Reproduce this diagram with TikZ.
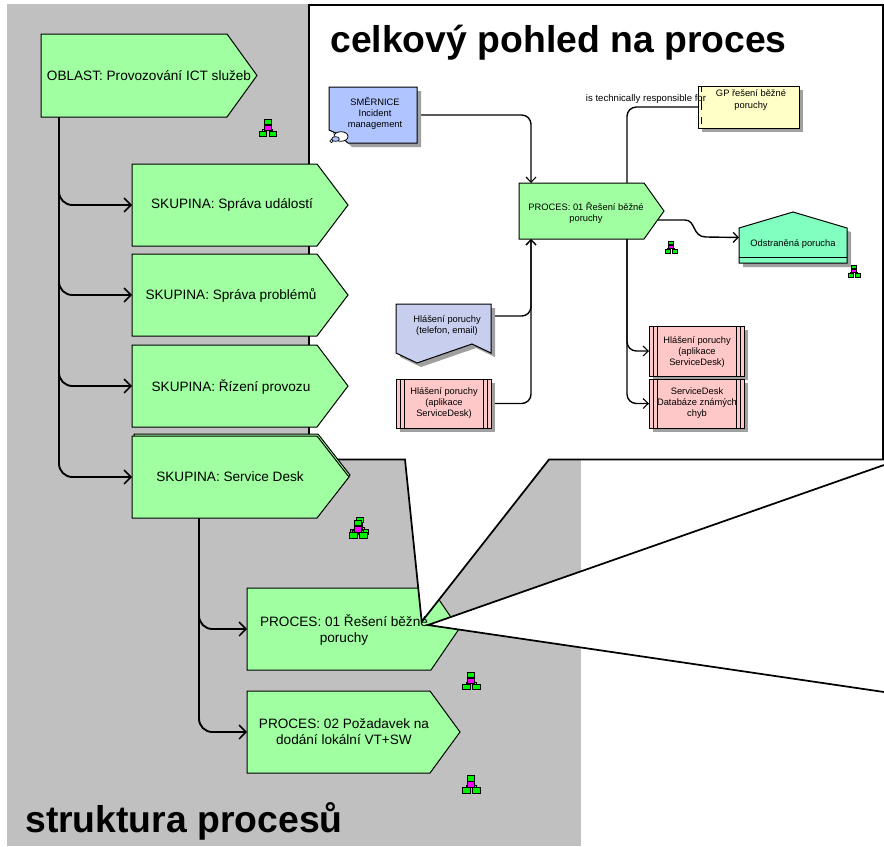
\documentclass[tikz,border=0pt]{standalone}
\usepackage{fontspec}
\setmainfont{Liberation Sans}
\usetikzlibrary{arrows.meta}
\definecolor{bggray}{HTML}{C0C0C0}
\definecolor{procgreen}{HTML}{A0FFA0}
\definecolor{shadowgray}{HTML}{A0A0A0}
\definecolor{docblue}{HTML}{B0C4FF}
\definecolor{infoblue}{HTML}{C8CEEE}
\definecolor{syspink}{HTML}{FFC8C8}
\definecolor{orgyellow}{HTML}{FFFFC8}
\definecolor{eventgreen}{HTML}{80FFC0}
\definecolor{iconmag}{HTML}{FF00FF}
\definecolor{icongreen}{HTML}{00F000}
\tikzset{
  hit/.style={inner sep=0pt,outer sep=0pt,draw=none,fill=none},
  outline/.style={draw=black,line width=0.75pt,line join=miter},
  outertext/.style={inner sep=0pt,align=center,font=\fontsize{10.2}{12}\selectfont},
  innertext/.style={inner sep=0pt,align=center,font=\fontsize{7}{8.3}\selectfont},
  bigtitle/.style={inner sep=0pt,anchor=base west,font=\fontsize{28}{30}\selectfont\bfseries},
  outerconn/.style={draw=black,line width=1.4pt,rounded corners=10pt,-{Straight Barb[length=5.2pt,width=10.5pt,line width=1.1pt]}},
  trunkline/.style={draw=black,line width=2pt},
  innerconn/.style={draw=black,line width=1.05pt,rounded corners=7pt,-{Straight Barb[length=3.8pt,width=7.5pt,line width=0.9pt]}},
  innerline/.style={draw=black,line width=1.05pt,rounded corners=7pt},
  calloutline/.style={draw=black,line width=1.3pt,line join=miter},
}
\newcommand{\boxnode}[5]{%
  \pgfmathsetmacro\bw{(#4-#2)*0.75}%
  \pgfmathsetmacro\bh{(#5-#3)*0.75}%
  \pgfmathsetmacro\bx{(#2+#4)/2}%
  \pgfmathsetmacro\by{(#3+#5)/2}%
  \node[hit,minimum width=\bw pt,minimum height=\bh pt] (#1) at (\bx,\by) {};%
}
% l t shoulder tip bottom
\newcommand{\chevron}[5]{%
  \pgfmathsetmacro\my{(#2+#5)/2}%
  \path[outline,fill=procgreen] (#1,#2) -- (#3,#2) -- (#4,\my) -- (#3,#5) -- (#1,#5) -- cycle;%
}
\newcommand{\shadowed}[2]{%
  \fill[shadowgray,shift={(4,4)}] #2;%
  \path[outline,fill=#1] #2;%
}
\newcommand{\hicon}[3]{%
  \begin{scope}[shift={(#1,#2)},scale=#3]
    \draw[line width=0.4pt] (0,5) -- (0,8) (-5,12) -- (-5,10) -- (5,10) -- (5,12);
    \filldraw[draw=black,line width=0.55pt,fill=icongreen] (-3.5,0) rectangle (3.5,5.5);
    \filldraw[draw=black,line width=0.55pt,fill=iconmag] (-3.2,6) rectangle (3.2,11.5);
    \filldraw[draw=black,line width=0.55pt,fill=icongreen] (-8.7,12) rectangle (-1,17.5);
    \filldraw[draw=black,line width=0.55pt,fill=icongreen] (1.5,12) rectangle (9,17.5);
  \end{scope}%
}
\newcommand{\syslines}[4]{%
  \draw[line width=0.6pt] (#1,#3) -- (#1,#4) (#2,#3) -- (#2,#4);%
}
\begin{document}
\begin{tikzpicture}[x=0.75pt,y=-0.75pt]
\useasboundingbox (0,0) rectangle (884,846);
% background
\fill[bggray] (7,4) rectangle (581,846);

% node frames
\boxnode{oblast}{41}{34}{257}{117}
\boxnode{skA}{132}{164}{348}{246}
\boxnode{skB}{132}{254}{348}{336}
\boxnode{skC}{132}{345}{348}{427}
\boxnode{skD}{132}{436}{349}{518}
\boxnode{procA}{247}{588}{459}{670}
\boxnode{procB}{247}{691}{460}{773}
\boxnode{smer}{329}{87}{417}{143}
\boxnode{core}{519}{183}{664}{239}
\boxnode{gp}{698}{86}{799}{128}
\boxnode{odstr}{739}{212}{847}{263}
\boxnode{tel}{396}{304}{491}{363}
\boxnode{pinkL}{396}{379}{491}{428}
\boxnode{pinkA}{649}{326}{744}{376}
\boxnode{pinkB}{649}{379}{744}{428}
\coordinate (trunkA) at (59,300);
\coordinate (trunkB) at (199,600);
\coordinate (trunkAend) at (59,462);
\coordinate (trunkBend) at (199,718);
\coordinate (coreIn) at (531,300);
\coordinate (coreOut) at (627,300);
\coordinate (telOut) at (491,316);
\coordinate (coreTip) at (658,220);
\coordinate (sA) at (685,220);
\coordinate (sB) at (706,237);

% outer connectors
\draw[outerconn] (trunkA |- oblast.south) |- (skA.west);
\draw[outerconn] (trunkA |- oblast.south) |- (skB.west);
\draw[outerconn] (trunkA |- oblast.south) |- (skC.west);
\draw[outerconn] (trunkA |- oblast.south) |- (skD.west);
\draw[outerconn] (trunkB |- skD.south) |- (procA.west);
\draw[outerconn] (trunkB |- skD.south) |- (procB.west);
\draw[trunkline] (trunkA |- oblast.south) -- (trunkAend);
\draw[trunkline] (trunkB |- skD.south) -- (trunkBend);

% shape under the callout
\chevron{247}{588}{431}{459}{670}
\chevron{247}{691}{430}{460}{773}
\chevron{41}{34}{227}{257}{117}

% callout
\path[calloutline,fill=white] (309,5) -- (883,5) -- (883,459.5) -- (549,459.5) -- (421.7,621.7) -- (405,459.5) -- (309,459.5) -- cycle;
\fill[white] (428,625) -- (884,465) -- (884,692) -- cycle;
\draw[calloutline] (884,465) -- (428,625) -- (884,692);

% outer shapes on top of the callout
\chevron{132}{164}{317}{348}{246}
\chevron{132}{254}{317}{348}{336}
\chevron{132}{345}{317}{348}{427}
\chevron{134}{434}{318}{350}{516}
\chevron{132}{436}{317}{349}{518}

% inner connectors
\draw[innerconn] (smer.east) -| (coreIn |- core.north);
\draw[innerconn] (telOut) -| (coreIn |- core.south);
\draw[innerconn] (pinkL.east) -| (coreIn |- core.south);
\draw[innerline] (coreOut |- core.north) |- (gp.west);
\draw[innerconn] (coreOut |- core.south) |- (pinkA.west);
\draw[innerconn] (coreOut |- core.south) |- (pinkB.west);
\draw[draw=black,line width=1.05pt,-{Straight Barb[length=3.8pt,width=7.5pt,line width=0.9pt]}] (coreTip) -- (sA) .. controls (696,220) and (692,237) .. (sB) -- (odstr.west);

% inner shapes
\chevron{519}{183}{644}{664}{239}
\shadowed{docblue}{(329,87) -- (417,87) -- (417,143) -- (348,143) -- (338,134) -- (329,130) -- cycle}
\filldraw[draw=black,line width=0.6pt,fill=white] (341,136.5) ellipse (7 and 4.8);
\filldraw[draw=black,line width=0.5pt,fill=docblue] (335.5,139) ellipse (3.8 and 2.4);
\filldraw[draw=black,line width=0.4pt,fill=docblue] (331.5,141) circle (1.8);
\shadowed{orgyellow}{(698,86) -- (799,86) -- (799,128) -- (698,128) -- cycle}
\draw[line width=0.6pt] (701.5,86) -- (701.5,92) (701.5,97) -- (701.5,110) (701.5,117) -- (701.5,124);
\shadowed{eventgreen}{(739,228) -- (793,212) -- (847,228) -- (847,263) -- (739,263) -- cycle}
\draw[line width=0.7pt] (739,257) -- (847,257);
\shadowed{infoblue}{(396,304) -- (491,304) -- (491,353) -- (472,344) -- (417,363) -- (396,353) -- cycle}
\shadowed{syspink}{(396,379) -- (491,379) -- (491,428) -- (396,428) -- cycle}
\syslines{400}{404.5}{379}{428}
\syslines{483}{487}{379}{428}
\shadowed{syspink}{(649,326) -- (744,326) -- (744,376) -- (649,376) -- cycle}
\syslines{653}{657.5}{326}{376}
\syslines{736}{740}{326}{376}
\shadowed{syspink}{(649,379) -- (744,379) -- (744,428) -- (649,428) -- cycle}
\syslines{653}{657.5}{379}{428}
\syslines{736}{740}{379}{428}

% hierarchy icons
\hicon{267.7}{119.3}{1}
\hicon{359.5}{517}{1}
\hicon{358}{520}{1.05}
\hicon{471}{672}{1}
\hicon{471}{775.5}{1}
\hicon{671}{241}{0.68}
\hicon{854}{265}{0.68}

% texts
\node[outertext] (toblast) at (149,76) {OBLAST: Provozování ICT služeb};
\node[outertext] (tskA) at (232,205) {SKUPINA: Správa událostí};
\node[outertext] (tskB) at (231,295) {SKUPINA: Správa problémů};
\node[outertext] (tskC) at (231,387) {SKUPINA: Řízení provozu};
\node[outertext] (tskD) at (230,477) {SKUPINA: Service Desk};
\node[outertext] (tprocA) at (344,630) {PROCES: 01 Řešení běžné\\poruchy};
\node[outertext] (tprocB) at (344,731.5) {PROCES: 02 Požadavek na\\dodání lokální VT+SW};
\node[innertext] (tsmer) at (375,113) {SMĚRNICE\\Incident\\management};
\node[innertext] (tcore) at (586,212.5) {PROCES: 01 Řešení běžné\\poruchy};
\node[innertext] (tgp) at (751,100) {GP řešení běžné\\poruchy};
\node[innertext] (todstr) at (793,244) {Odstraněná porucha};
\node[innertext] (ttel) at (447,325.5) {Hlášení poruchy\\(telefon, email)};
\node[innertext] (tpinkL) at (444,403) {Hlášení poruchy\\(aplikace\\ServiceDesk)};
\node[innertext] (tpinkA) at (697,352) {Hlášení poruchy\\(aplikace\\ServiceDesk)};
\node[innertext] (tpinkB) at (697,403) {ServiceDesk\\Databáze známých\\chyb};
\node[innertext,font=\fontsize{7.2}{8.3}\selectfont] (tresp) at (646,99) {is technically responsible for};
\node[bigtitle] (ttitleA) at (330,52) {celkový pohled na proces};
\node[bigtitle] (ttitleB) at (25,832) {struktura procesů};
\end{tikzpicture}
\end{document}
